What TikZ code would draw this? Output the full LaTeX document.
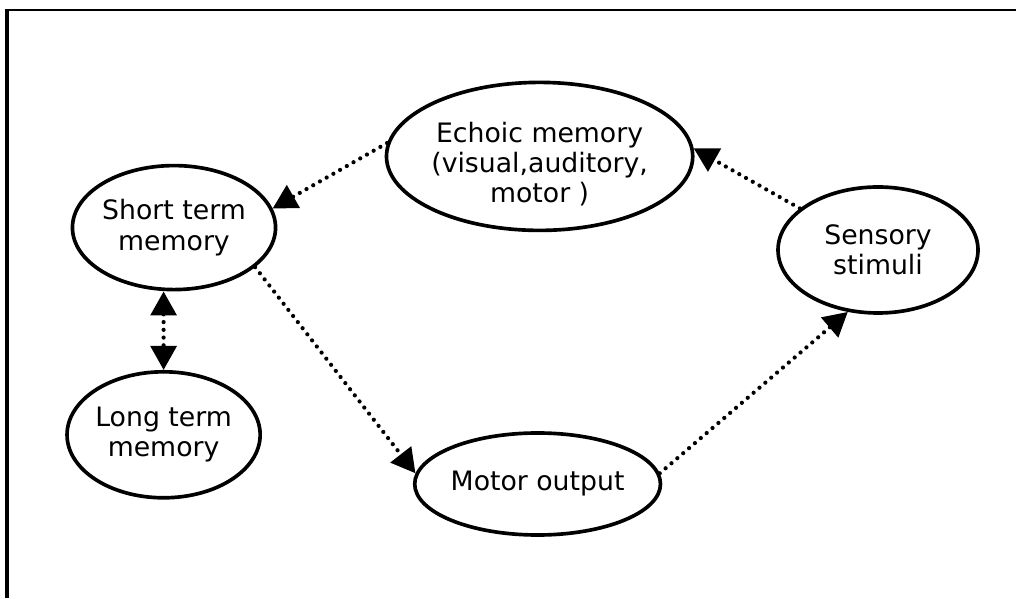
\documentclass[tikz,border=0pt]{standalone}
\usepackage{fontspec}
\setmainfont{DejaVu Sans}
\usetikzlibrary{shapes.geometric,arrows.meta}
\begin{document}
\begin{tikzpicture}[
    memnode/.style={draw, ellipse, line width=2.6pt, inner sep=0pt, align=center,
        font=\fontsize{19}{21.5}\selectfont},
    flow/.style={line width=3pt, line cap=round, dash pattern=on 0pt off 5.5pt,
        -{Triangle[length=0.6cm,width=0.64cm]}}
]
    \useasboundingbox (0, 0) rectangle (25.4, 14.95);
    % frame
    \draw[line width=3pt] (0.175, 0) -- (0.175, 14.7);
    \draw[line width=2pt] (0.12, 14.7) -- (25.4, 14.7);
    % memories
    \node[memnode, minimum width=6.6cm, minimum height=3.7cm] (echoic) at (13.49, 11.04) {\rule{0pt}{0.9cm}Echoic memory\\(visual,auditory,\\motor )};
    \node[memnode, minimum width=5.05cm, minimum height=3.1cm] (short) at (4.35, 9.26) {Short term\\memory};
    \node[memnode, minimum width=4.4cm, minimum height=3.15cm] (long) at (4.09, 4.08) {Long term\\memory};
    \node[memnode, minimum width=5.0cm, minimum height=3.15cm] (sensory) at (21.95, 8.7) {Sensory\\stimuli};
    \node[memnode, minimum width=5.6cm, minimum height=2.55cm] (motor) at (13.44, 2.85) {Motor output};
    % flows
    \draw[flow] (echoic.175) -- (short.11);
    \draw[flow] (sensory.152) -- (echoic.3);
    \draw[flow] (short.-26) -- (motor.175);
    \draw[flow] (motor.5) -- (sensory.244);
    \draw[flow, {Triangle[length=0.6cm,width=0.64cm]}-{Triangle[length=0.6cm,width=0.64cm]}] (short.south -| long.north) -- (long.north);
\end{tikzpicture}
\end{document}
